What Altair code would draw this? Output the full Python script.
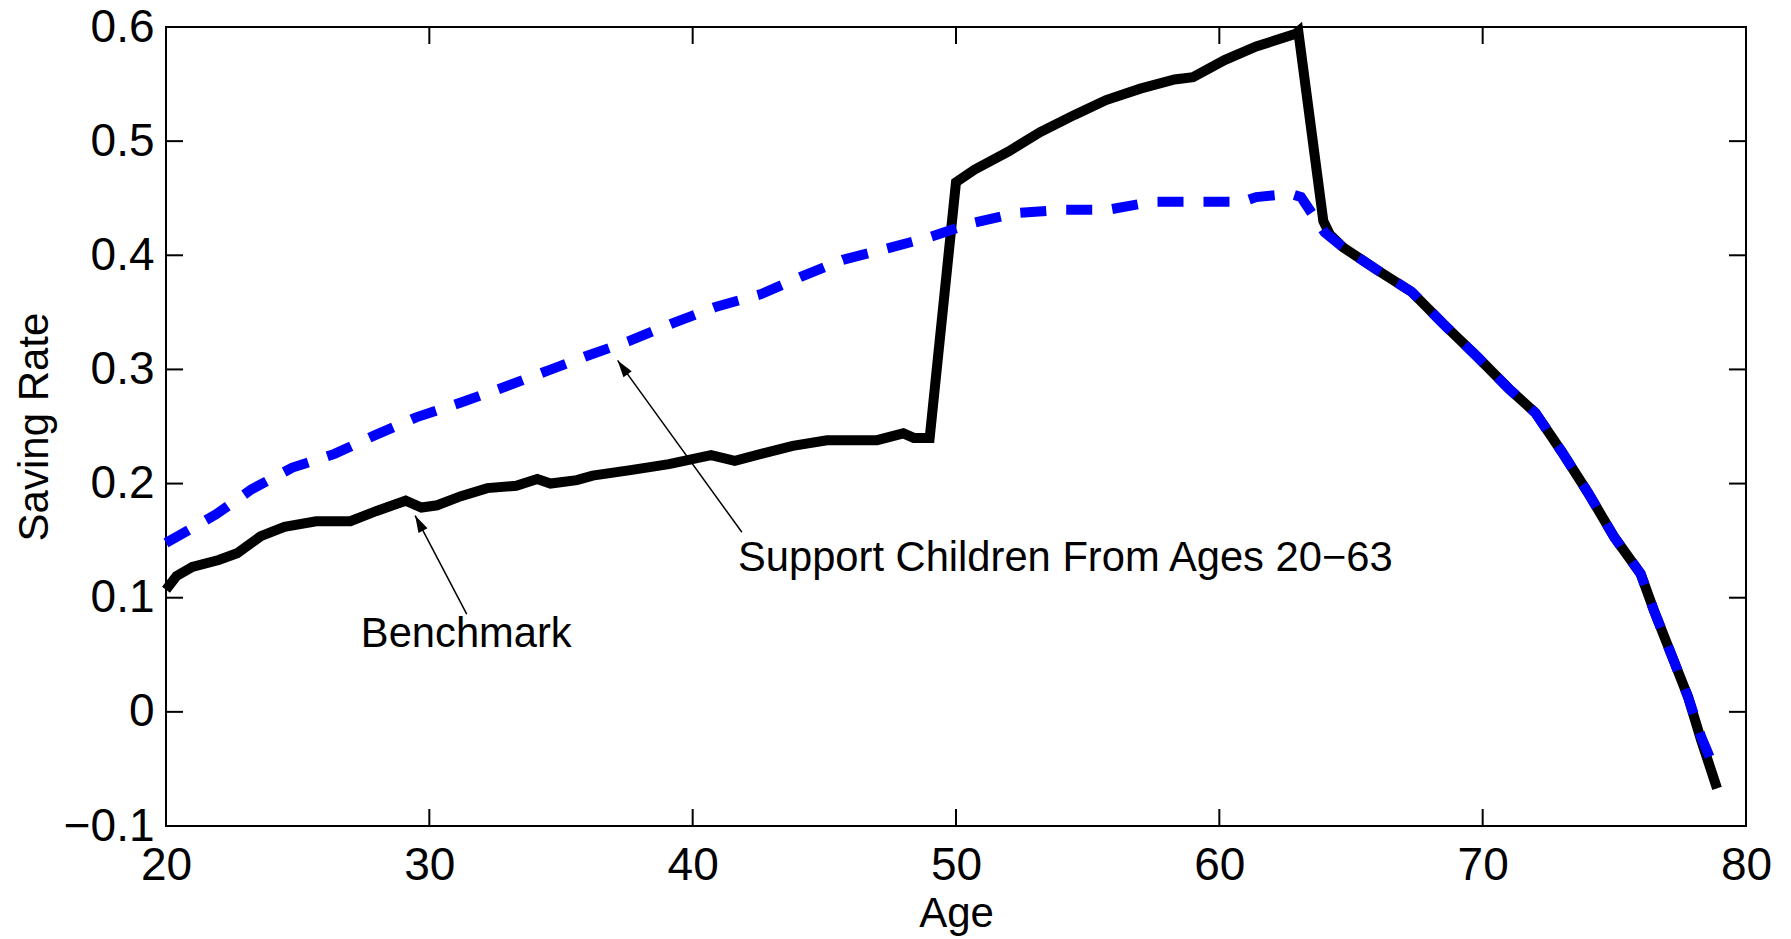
import altair as alt
import pandas as pd

FONT = "Liberation Sans"
W, H = 1580, 799
TICK = 17

# ---- data ----
bench_age = [20.0, 20.4, 21.0, 22.0, 22.7, 23.6, 24.5, 25.7, 27.0, 28.0, 29.1, 29.7, 30.3,
             31.2, 32.2, 33.3, 34.1, 34.6, 35.6, 36.2, 37.7, 39.1, 40.7, 41.6, 42.6, 43.8,
             45.1, 47.0, 48.0, 48.4, 49.0, 50.0, 50.7, 52.0, 53.2, 54.5, 55.7, 57.0, 58.3,
             59.0, 60.2, 61.4, 62.9, 63.0, 63.95, 64.2, 64.7, 66.0, 67.3, 68.5, 69.8, 71.0,
             72.0, 73.0, 74.0, 75.0, 76.0, 76.5, 77.1, 77.8, 78.3, 78.9]
bench_rate = [0.107, 0.119, 0.127, 0.133, 0.139, 0.154, 0.162, 0.167, 0.167, 0.176, 0.185, 0.179, 0.181,
              0.189, 0.196, 0.198, 0.204, 0.200, 0.203, 0.207, 0.212, 0.217, 0.225, 0.220, 0.226, 0.233,
              0.238, 0.238, 0.244, 0.240, 0.240, 0.464, 0.475, 0.491, 0.508, 0.523, 0.536, 0.546, 0.554,
              0.556, 0.571, 0.583, 0.594, 0.596, 0.430, 0.418, 0.407, 0.387, 0.368, 0.340, 0.311, 0.283,
              0.262, 0.228, 0.192, 0.153, 0.121, 0.089, 0.054, 0.013, -0.025, -0.067]

support_age = [20.0, 21.9, 23.25, 24.8, 26.4, 27.9, 29.5, 31.2, 32.9, 34.5, 36.0, 37.6, 39.3,
               40.9, 42.6, 44.1, 45.7, 47.4, 49.0, 50.6, 52.3, 54.1, 55.8, 57.5, 59.3, 60.9,
               61.4, 62.7, 63.1, 64.0, 64.7, 66.0, 67.3, 68.5, 69.8, 71.0, 72.0, 73.0, 74.0,
               75.0, 76.0, 76.5, 77.1, 77.8, 78.3, 78.9]
support_rate = [0.148, 0.173, 0.195, 0.214, 0.226, 0.242, 0.258, 0.271, 0.285, 0.299, 0.312, 0.325, 0.341,
                0.355, 0.366, 0.381, 0.396, 0.406, 0.416, 0.428, 0.437, 0.440, 0.440, 0.447, 0.447, 0.447,
                0.451, 0.454, 0.451, 0.420, 0.407, 0.387, 0.368, 0.340, 0.311, 0.283, 0.262, 0.228, 0.192,
                0.153, 0.121, 0.089, 0.054, 0.013, -0.022, -0.055]

x_ticks = [20, 30, 40, 50, 60, 70, 80]
y_ticks = [-0.1, 0.0, 0.1, 0.2, 0.3, 0.4, 0.5, 0.6]

label_text = ["Benchmark", "Support Children From Ages 20\u221263"]
label_age = [27.4, 41.72]
label_rate = [0.0564, 0.1237]

arrow_tail_age = [31.42, 41.87]
arrow_tail_rate = [0.0857, 0.1573]
arrow_head_age = [29.46, 37.15]
arrow_head_rate = [0.172, 0.3079]
arrow_angle = [332.3, 324.1]

# ---- tables ----
bench_df = pd.DataFrame({"age": bench_age, "rate": bench_rate})
support_df = pd.DataFrame({"age": support_age, "rate": support_rate})
xt_df = pd.DataFrame({"age": x_ticks})
yt_df = pd.DataFrame({"rate": y_ticks})
lab_df = pd.DataFrame({"age": label_age, "rate": label_rate, "text": label_text})
arr_df = pd.DataFrame({"age": arrow_tail_age, "rate": arrow_tail_rate,
                       "age2": arrow_head_age, "rate2": arrow_head_rate})
head_df = pd.DataFrame({"age": arrow_head_age, "rate": arrow_head_rate, "ang": arrow_angle})

x_scale = alt.Scale(domain=[20, 80], nice=False, zero=False)
y_scale = alt.Scale(domain=[-0.1, 0.6], nice=False, zero=False)

x_axis = alt.Axis(values=x_ticks, format="d", title="Age", grid=False, domain=False,
                  ticks=False, tickSize=0, labelFlush=False, labelPadding=17,
                  labelFontSize=46, labelFont=FONT, labelColor="black",
                  titleFontSize=42, titleFont=FONT, titleColor="black", titleFontWeight="normal",
                  titleX=W / 2, titleY=100, titleAlign="center", titleBaseline="alphabetic",
                  labelOverlap=False)
y_axis = alt.Axis(values=y_ticks, format=".1~f", title="Saving Rate", grid=False, domain=False,
                  ticks=False, tickSize=0, labelFlush=False, labelPadding=12,
                  labelFontSize=46, labelFont=FONT, labelColor="black",
                  titleFontSize=42, titleFont=FONT, titleColor="black", titleFontWeight="normal",
                  titleAngle=270, titleX=-119, titleY=H / 2, titleAlign="center",
                  titleBaseline="alphabetic", labelOverlap=False)


def X(field="age"):
    return alt.X(f"{field}:Q", scale=x_scale, axis=x_axis)


def Y(field="rate"):
    return alt.Y(f"{field}:Q", scale=y_scale, axis=y_axis)


black = alt.Chart(bench_df).mark_line(color="black", strokeWidth=10, strokeCap="butt",
                                      strokeJoin="miter").encode(x=X(), y=Y())
blue = alt.Chart(support_df).mark_line(color="#0000ff", strokeWidth=10, strokeCap="butt",
                                       strokeDash=[26, 20]).encode(x=X(), y=Y())

xt_bottom = alt.Chart(xt_df).mark_rule(color="black", strokeWidth=2).encode(
    x=X(), y=alt.value(H), y2=alt.value(H - TICK))
xt_top = alt.Chart(xt_df).mark_rule(color="black", strokeWidth=2).encode(
    x=X(), y=alt.value(0), y2=alt.value(TICK))
yt_left = alt.Chart(yt_df).mark_rule(color="black", strokeWidth=2).encode(
    y=Y(), x=alt.value(0), x2=alt.value(TICK))
yt_right = alt.Chart(yt_df).mark_rule(color="black", strokeWidth=2).encode(
    y=Y(), x=alt.value(W), x2=alt.value(W - TICK))

shafts = alt.Chart(arr_df).mark_rule(color="black", strokeWidth=1.5).encode(
    x=X(), y=Y(), x2="age2:Q", y2="rate2:Q")
heads = alt.Chart(head_df).mark_point(shape="M0,0L-0.3,1L0.3,1Z", filled=True, size=1156,
                                      color="black", opacity=1, strokeWidth=0).encode(
    x=X(), y=Y(), angle=alt.Angle("ang:Q", scale=None))

labels = alt.Chart(lab_df).mark_text(align="left", baseline="alphabetic", fontSize=41.7,
                                     font=FONT, color="black").encode(
    x=X(), y=Y(), text="text:N")

chart = alt.layer(black, blue, xt_bottom, xt_top, yt_left, yt_right, shafts, heads, labels).properties(
    width=W, height=H,
    autosize=alt.AutoSizeParams(type="none"),
    padding={"left": 166, "top": 27, "right": 45, "bottom": 113},
    background="white",
).configure_view(stroke="black", strokeWidth=2)

chart.save("out.html", embed_options={"renderer": "svg", "actions": False})
